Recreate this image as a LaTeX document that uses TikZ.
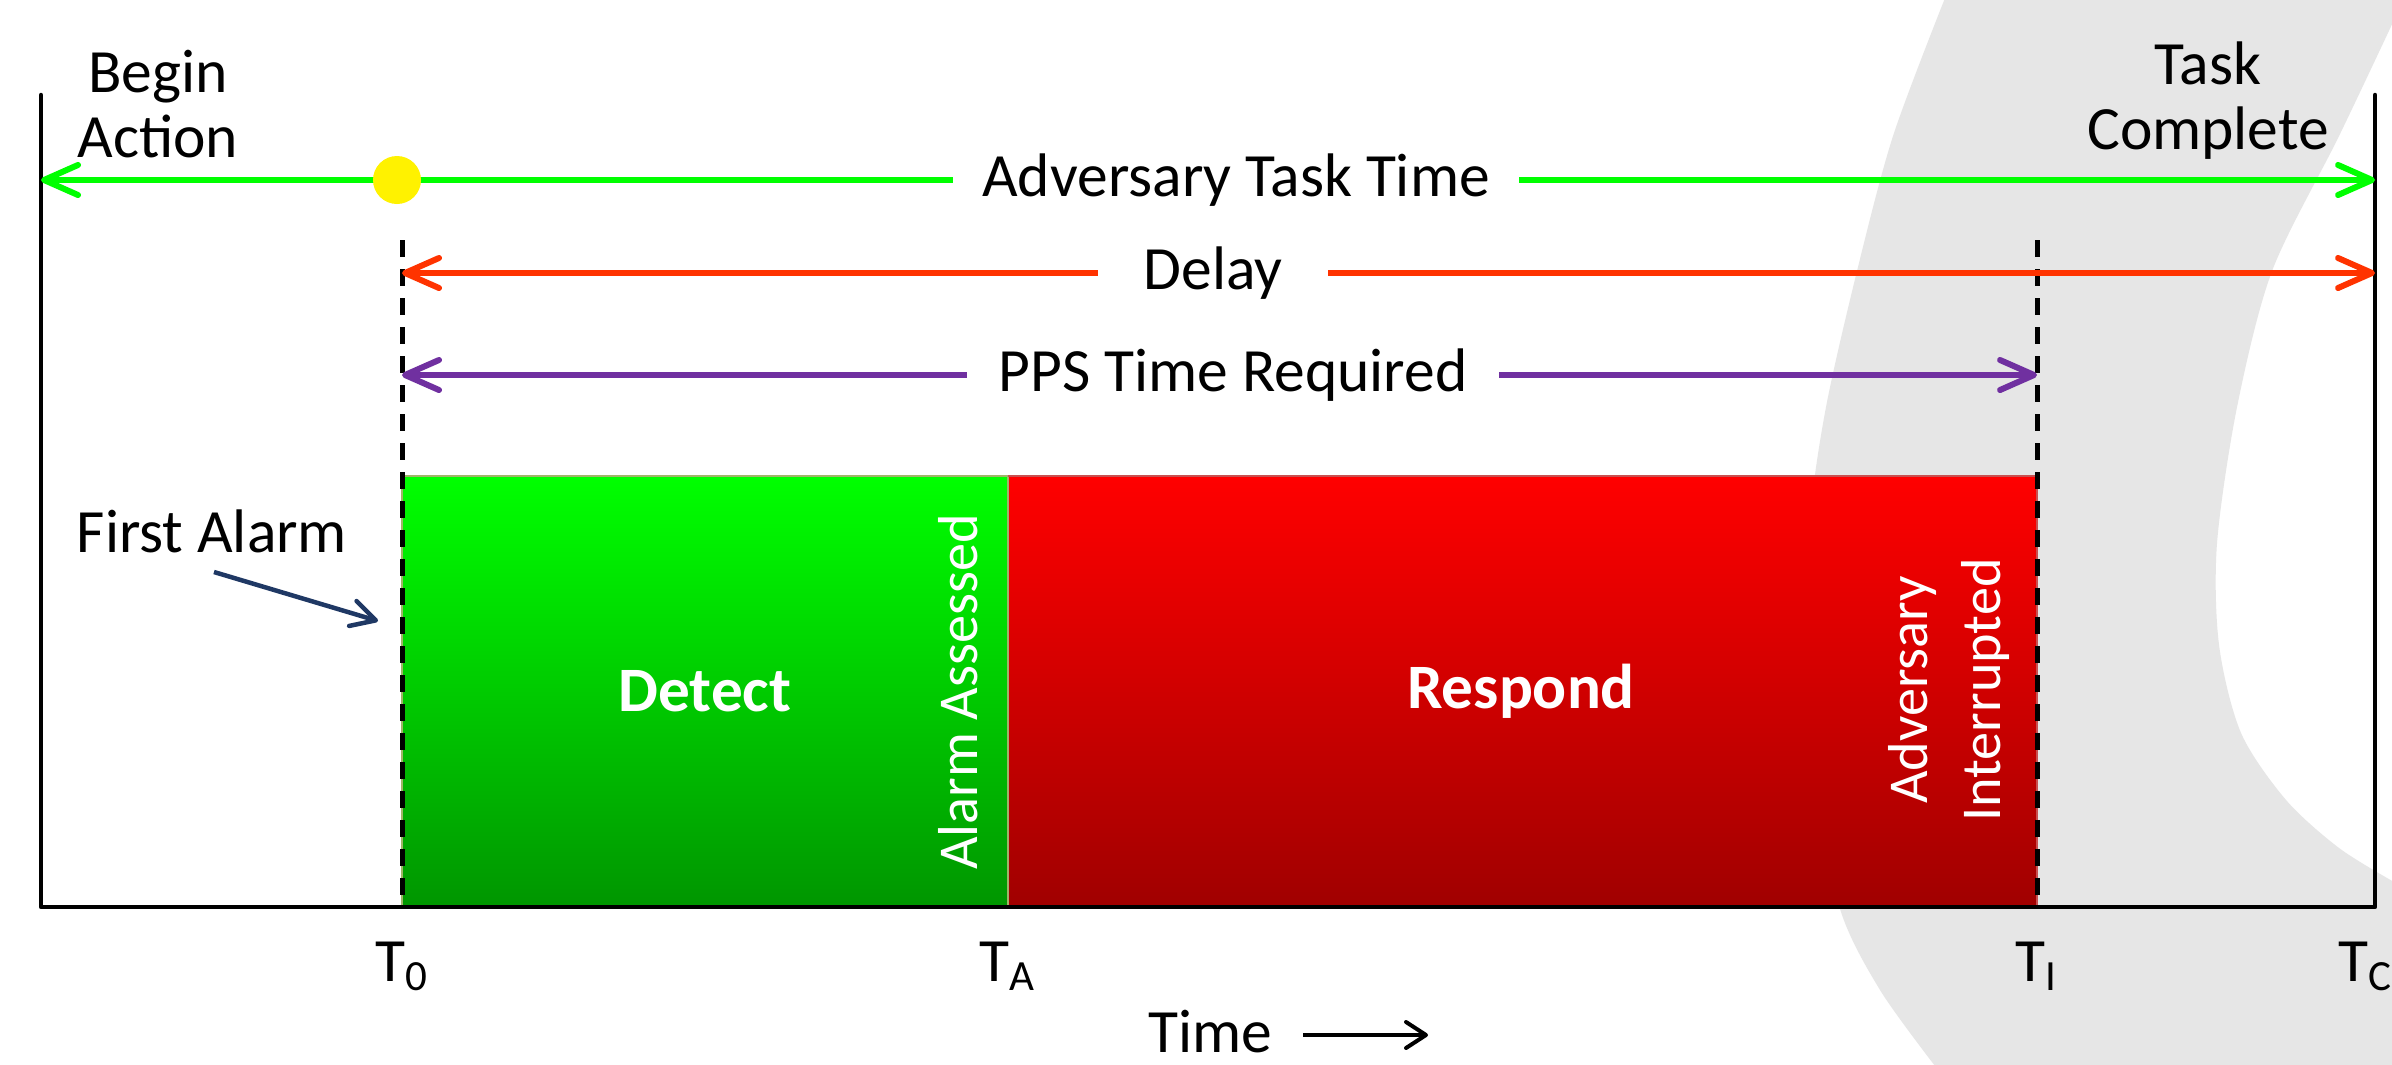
\documentclass[tikz,border=0pt]{standalone}
\usepackage{fontspec}
\setmainfont{Carlito}
\usetikzlibrary{arrows.meta}
\definecolor{bggray}{HTML}{E6E6E6}
\definecolor{agreen}{HTML}{00FF00}
\definecolor{ared}{HTML}{FF3300}
\definecolor{apurple}{HTML}{7030A0}
\definecolor{anavy}{HTML}{1F3864}
\definecolor{gtop}{HTML}{00FF00}
\definecolor{gmid}{HTML}{00E000}
\definecolor{gbot}{HTML}{009600}
\definecolor{rtop}{HTML}{FF0000}
\definecolor{rmid}{HTML}{DD0000}
\definecolor{rbot}{HTML}{A00000}
\definecolor{gborder}{HTML}{A0B468}
\definecolor{rborder}{HTML}{C85050}
\tikzset{
  lbl/.style={font=\fontsize{17.5}{18.5}\selectfont, text=black, inner sep=0pt},
  arlbl/.style={font=\fontsize{17.5}{18.5}\selectfont, text=black, inner ysep=0pt},
  boxlbl/.style={font=\fontsize{18}{20}\selectfont\bfseries, text=white, inner sep=0pt},
  rotlbl/.style={font=\fontsize{16}{21}\selectfont, text=white, rotate=90, inner sep=0pt, align=center},
  frameline/.style={line width=0.45mm, black, line cap=round, line join=round},
  dashline/.style={line width=0.5mm, black, dash pattern=on 1.7mm off 1.2mm},
  tipbig/.style={-{Straight Barb[length=3.4mm,width=3mm,round]}},
  garrow/.style={tipbig, line width=0.6mm, agreen},
  rarrow/.style={tipbig, line width=0.6mm, ared},
  parrow/.style={tipbig, line width=0.6mm, apurple},
  navyarrow/.style={-{Straight Barb[length=2.4mm,width=2.6mm,round]}, line width=0.45mm, anavy},
  timearrow/.style={-{Straight Barb[length=2mm,width=2.6mm,round]}, line width=0.4mm, black},
}
\begin{document}
\begin{tikzpicture}[x=0.1mm,y=-0.1mm]
\useasboundingbox (0,0) rectangle (2392,1064);
\fill[white] (0,0) rectangle (2392,1064);
% background crescent
\begin{scope}
\clip (0,0) rectangle (2392,1064);
\fill[bggray] plot[smooth] coordinates {(1945,-2) (1893,136) (1857,271) (1826,407) (1810,520) (1808,650) (1815,780) (1840,909) (1880,990) (1935,1066)}
  -- (2394,1066) -- (2394,882)
  -- plot[smooth] coordinates {(2394,882) (2339,848) (2286,800) (2241,733) (2219,645) (2217,543) (2237,407) (2272,271) (2339,136) (2394,20)}
  -- (2394,-2) -- cycle;
\end{scope}

% coordinates
\coordinate (TL) at (41,95);
\coordinate (BL) at (41,907);
\coordinate (BR) at (2375,907);
\coordinate (TR) at (2375,95);
\coordinate (gL) at (41,180);
\coordinate (gR) at (2375,180);
\coordinate (d0t) at (402,240);
\coordinate (d0b) at (402,907);
\coordinate (dIt) at (2037,240);
\coordinate (dIb) at (2037,907);
\coordinate (rL) at (402,273);
\coordinate (rR) at (2375,273);
\coordinate (pL) at (402,375);
\coordinate (pR) at (2037,375);

% boxes
\shade[top color=gtop, middle color=gmid, bottom color=gbot] (402,476) rectangle (1008,907);
\shade[top color=rtop, middle color=rmid, bottom color=rbot] (1008,476) rectangle (2037,907);
\draw[gborder, line width=0.15mm] (402,907) -- (402,476) -- (1008,476) -- (1008,907);
\draw[rborder, line width=0.15mm] (1008,476) -- (2037,476) -- (2037,907);

% frame
\draw[frameline] (TL) -- (BL) -- (BR) -- (TR);
\draw[dashline] (d0t) -- (d0b);
\draw[dashline] (dIt) -- (dIb);

% labels top
\node[lbl, align=center] (begin) at (158,104) {Begin\\Action};
\node[lbl, align=center] (task) at (2208,101) {Task\\Complete};

% arrows
\node[arlbl, inner xsep=2.9mm] (att) at (1236,180) {Adversary Task Time};
\draw[garrow] (att.west) -- (gL);
\draw[garrow] (att.east) -- (gR);
\node[circle, fill=yellow, minimum size=4.8mm, inner sep=0pt] (dot) at (397,180) {};

\node[arlbl, inner xsep=4.5mm] (delay) at (1213,273) {Delay};
\draw[rarrow] (delay.west) -- (rL);
\draw[rarrow] (delay.east) -- (rR);

\node[arlbl, inner xsep=3.1mm] (pps) at (1233,375) {PPS Time Required};
\draw[parrow] (pps.west) -- (pL);
\draw[parrow] (pps.east) -- (pR);

% box texts
\node[boxlbl] (detect) at (705,691) {Detect};
\node[boxlbl] (respond) at (1521,691) {Respond};
\node[rotlbl] (assessed) at (958,692) {Alarm Assessed};
\node[rotlbl] (interrupted) at (1949,690) {Adversary\\Interrupted};

% first alarm
\node[lbl] (fa) at (212,531) {First Alarm};
\coordinate (faS) at (214,572);
\coordinate (faE) at (378,621);
\draw[navyarrow] (faS) -- (faE);

% tick labels
\node[lbl] (t0) at (402,966) {T\textsubscript{0}};
\node[lbl] (ta) at (1008,966) {T\textsubscript{A}};
\node[lbl] (ti) at (2037,966) {T\textsubscript{I}};
\node[lbl] (tc) at (2366,966) {T\textsubscript{C}};

% time
\node[lbl] (time) at (1210,1032) {Time};
\coordinate (tS) at (1303,1035);
\coordinate (tE) at (1428,1035);
\draw[timearrow] (tS) -- (tE);
\end{tikzpicture}
\end{document}
